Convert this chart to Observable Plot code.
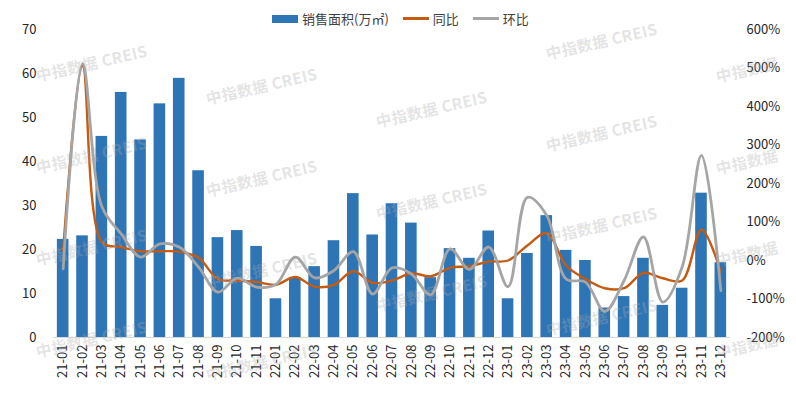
<!DOCTYPE html>
<html><head><meta charset="utf-8">
<script src="https://cdn.jsdelivr.net/npm/d3@7"></script>
<script src="https://cdn.jsdelivr.net/npm/@observablehq/plot@0.6"></script>
<style>
body{margin:0;background:#fff;font-family:"Noto Sans CJK SC","Noto Sans",sans-serif;}
#wrap{position:relative;width:796px;height:399px;overflow:hidden;}
#legend{position:absolute;top:9px;left:272px;display:flex;align-items:center;font-size:13px;color:#404040;white-space:nowrap;}
#legend .sw{display:inline-block;margin-right:4px;}
#legend .it{display:flex;align-items:center;margin-right:14px;}
.wm{position:absolute;font-size:15.5px;font-weight:bold;color:rgba(170,170,170,0.33);transform:rotate(-13deg);transform-origin:left center;white-space:nowrap;pointer-events:none;letter-spacing:0.3px;}
</style></head>
<body><div id="wrap"></div>
<script>
const months = ["21-01","21-02","21-03","21-04","21-05","21-06","21-07","21-08","21-09","21-10","21-11",
"22-01","22-02","22-03","22-04","22-05","22-06","22-07","22-08","22-09","22-10","22-11","22-12",
"23-01","23-02","23-03","23-04","23-05","23-06","23-07","23-08","23-09","23-10","23-11","23-12"];
const area = [22.3,23.1,45.7,55.7,44.9,53.1,58.9,37.9,22.7,24.3,20.7,
8.8,13.6,16.1,22.0,32.7,23.3,30.4,26.0,13.6,20.2,18.0,24.2,
8.8,19.1,27.7,19.8,17.5,6.7,9.3,18.0,7.3,11.2,32.8,17.0];
const yoy = [26,505,48,35,24,24,23,7,-48,-52,-56,
-63,-43,-68,-63,-28,-58,-52,-33,-41,-19,-15,-3,
0,39,71,-13,-48,-72,-72,-32,-46,-52,80,-30];
const mom = [-22,511,140,69,9,43,35,-17,-82,-46,-69,
-62,9,-45,-26,23,-87,-19,-35,-89,30,-23,35,
-68,164,117,-48,-56,-132,-52,61,-108,-17,273,-78];
const leftTicks = [0,10,20,30,40,50,60,70];
const pctTicks = [-200,-100,0,100,200,300,400,500,600];

const toY = p => (p + 200) / 800 * 70;
const rows = months.map((m,i)=>({m, area: area[i], yoy: toY(yoy[i]), mom: toY(mom[i])}));

const chart = Plot.plot({
  width: 796, height: 399,
  marginTop: 29, marginBottom: 62, marginLeft: 53, marginRight: 66,
  style: {fontFamily: '"Noto Sans CJK SC","Noto Sans",sans-serif', fontSize: "13px", color: "#262626", background: "transparent"},
  x: {type: "band", domain: months, paddingInner: 0.4, paddingOuter: 0.2, round: false, label: null},
  y: {domain: [0,70], label: null},
  marks: [
    Plot.barY(rows, {x: "m", y: "area", fill: "#2e75b6"}),
    Plot.line(rows, {x: "m", y: "yoy", stroke: "#c55a11", strokeWidth: 2.4, curve: "catmull-rom"}),
    Plot.line(rows, {x: "m", y: "mom", stroke: "#a5a5a5", strokeWidth: 2.8, curve: "catmull-rom"}),
    Plot.ruleY([0], {stroke: "#d9d9d9", strokeWidth: 1}),
    Plot.axisY(leftTicks, {anchor: "left", tickSize: 0, tickPadding: 17, label: null}),
    Plot.axisY(pctTicks.map(toY), {anchor: "right", tickSize: 0, tickPadding: 16, label: null,
      tickFormat: d => Math.round(d / 70 * 800 - 200) + "%"}),
    Plot.axisX({tickSize: 0, tickPadding: 7, tickRotate: -90, label: null})
  ]
});
const wrap = document.getElementById("wrap");
wrap.appendChild(chart);

// watermarks
for (let c = 0; c < 5; c++) {
  for (let r = -1; r < 5; r++) {
    const x = 36 + 170 * c, y = 75 + 23.2 * c + 92 * r;
    if (y < 40 || y > 392) continue;
    const s = document.createElement("div");
    s.className = "wm";
    s.textContent = c === 4 ? "中指数据" : "中指数据  CREIS";
    s.style.left = x + "px"; s.style.top = (y - 11) + "px";
    wrap.appendChild(s);
  }
}

// legend
const lg = document.createElement("div");
lg.id = "legend";
const items = [
  {label: "销售面积(万㎡)", sw: '<span class="sw" style="width:26px;height:8px;background:#2e75b6"></span>'},
  {label: "同比", sw: '<span class="sw" style="width:26px;height:3px;background:#c55a11"></span>'},
  {label: "环比", sw: '<span class="sw" style="width:26px;height:3px;background:#a5a5a5"></span>'}
];
lg.innerHTML = items.map(d => `<span class="it">${d.sw}<span>${d.label}</span></span>`).join("");
wrap.appendChild(lg);
</script></body></html>
